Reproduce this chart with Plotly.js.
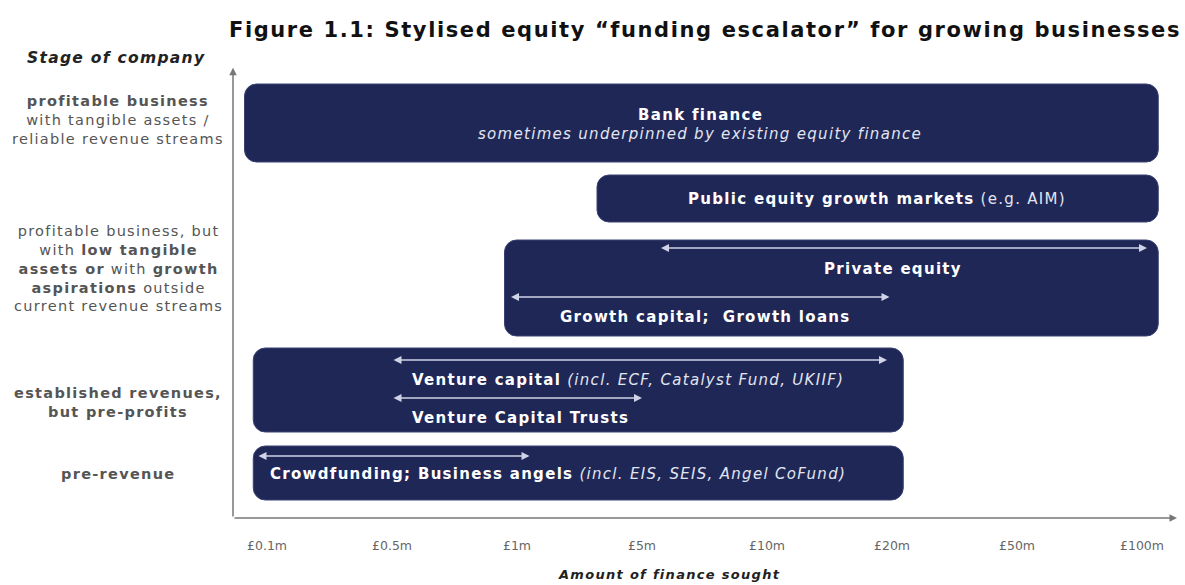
<!DOCTYPE html>
<html><head><meta charset="utf-8">
<script src="https://cdn.plot.ly/plotly-3.0.1.min.js"></script>
<style>
body{margin:0;background:#fff}
text.annotation-text{letter-spacing:1.3px}
text.gtitle{letter-spacing:1.6px}
</style>
</head><body><div id="chart" style="width:1185px;height:585px"></div>
<script>
// ---- data ----
const amountTicks = ['£0.1m','£0.5m','£1m','£5m','£10m','£20m','£50m','£100m'];
const tickIndex = [0,1,2,3,4,5,6,7];
const sources = ['Bank finance','Public equity growth markets','Private equity; Growth capital','Venture capital; VCTs','Crowdfunding; Business angels'];
const rangeStart = [-0.18, 2.64, 1.9, -0.11, -0.11];
const rangeEnd   = [7.13, 7.13, 7.13, 5.09, 5.09];
const arrowNames = ['Private equity','Growth capital','Venture capital','Venture Capital Trusts','Crowdfunding'];
const arrowFrom  = [3.14, 1.94, 1.0, 1.0, -0.08];
const arrowTo    = [7.04, 4.98, 4.96, 3.0, 2.10];
const stageLabels = [
  '<b>profitable business</b><br>with tangible assets /<br>reliable revenue streams',
  'profitable business, but<br>with <b>low tangible</b><br><b>assets or</b> with <b>growth</b><br><b>aspirations</b> outside<br>current revenue streams',
  '<b>established revenues,</b><br><b>but pre-profits</b>',
  '<b>pre-revenue</b>'
];

// ---- layout constants (positions / sizes) ----
const barCenter = [39.5, 31.95, 23.0, 12.8, 4.5];
const barThick  = [7.8, 4.7, 9.6, 8.4, 5.4];
const arrowY    = [27.0, 22.1, 15.8, 12.0, 6.2];
const stageY    = [39.8, 25.0, 11.6, 4.4];
const NAVY = '#1f2757';
const FONT = 'DejaVu Sans, Verdana, sans-serif';

const trace = {
  type: 'bar', orientation: 'h',
  y: barCenter, width: barThick,
  base: rangeStart,
  x: rangeEnd.map((e,i)=>e-rangeStart[i]),
  text: sources, textposition: 'none', hoverinfo: 'text',
  marker: {color: NAVY, cornerradius: 12, line: {color: '#3a4272', width: 1}}
};

const annotations = [];
for (let i=0;i<arrowNames.length;i++){
  annotations.push({x: arrowTo[i], y: arrowY[i], ax: arrowFrom[i], ay: arrowY[i],
    xref:'x', yref:'y', axref:'x', ayref:'y', text:'', showarrow:true,
    arrowhead:2, startarrowhead:2, arrowside:'end+start', arrowsize:1, startarrowsize:1,
    arrowwidth:1.6, arrowcolor:'#d0d4e6'});
}
const W = '#ffffff', WI = '#e2e5f0';
function txt(x,y,t,anchor,size){
  return {x:x,y:y,xref:'x',yref:'y',text:t,showarrow:false,xanchor:anchor||'center',yanchor:'middle',
    font:{family:FONT,size:size||15,color:W}};
}
annotations.push(txt(3.464,40.3,'<b>Bank finance</b>'));
annotations.push(txt(3.464,38.4,'<i><span style="color:'+WI+'">sometimes underpinned by existing equity finance</span></i>'));
annotations.push(txt(4.88,31.9,'<b>Public equity growth markets</b> <span style="color:'+WI+'">(e.g. AIM)</span>'));
annotations.push(txt(5.008,24.9,'<b>Private equity</b>'));
annotations.push(txt(3.504,20.1,'<b>Growth capital;  Growth loans</b>'));
annotations.push(txt(1.144,13.8,'<b>Venture capital</b> <i><span style="color:'+WI+'">(incl. ECF, Catalyst Fund, UKIIF)</span></i>','left'));
annotations.push(txt(1.144,10.0,'<b>Venture Capital Trusts</b>','left'));
annotations.push(txt(0.008,4.4,'<b>Crowdfunding; Business angels</b> <i><span style="color:'+WI+'">(incl. EIS, SEIS, Angel CoFund)</span></i>','left'));

for (let i=0;i<stageLabels.length;i++){
  annotations.push({x:-0.1214, y:stageY[i], xref:'paper', yref:'y', text:stageLabels[i], showarrow:false,
    xanchor:'center', yanchor:'middle', align:'center',
    font:{family:FONT,size:14.5,color:'#555'}});
}
annotations.push({x:-0.1235, y:1.027, xref:'paper', yref:'paper', text:'<b><i>Stage of company</i></b>',
  showarrow:false, xanchor:'center', yanchor:'middle', font:{family:FONT,size:15.5,color:'#222'}});
annotations.push({x:(669-233)/944, y:-0.127, xref:'paper', yref:'paper', text:'<b><i>Amount of finance sought</i></b>',
  showarrow:false, xanchor:'center', yanchor:'middle', font:{family:FONT,size:13,color:'#222'}});
// axis arrows
annotations.push({x:0, y:1.005, ax:0, ay:0, xref:'x domain', yref:'y domain', axref:'x domain', ayref:'y domain',
  text:'', showarrow:true, arrowhead:2, arrowsize:1, arrowwidth:1.5, arrowcolor:'#777'});
annotations.push({x:1, y:0, ax:0, ay:0, xref:'x domain', yref:'y domain', axref:'x domain', ayref:'y domain',
  text:'', showarrow:true, arrowhead:2, arrowsize:1, arrowwidth:1.5, arrowcolor:'#777'});

const layout = {
  width:1185, height:585, paper_bgcolor:'#fff', plot_bgcolor:'#fff',
  margin:{l:233, r:8, t:70, b:67},
  showlegend:false, barmode:'overlay',
  title:{text:'<b>Figure 1.1: Stylised equity \u201cfunding escalator\u201d for growing businesses</b>',
    x:0.5, xref:'paper', xanchor:'center', y:0.949, yref:'container', yanchor:'middle',
    font:{family:FONT,size:21,color:'#111'}},
  xaxis:{range:[-0.272,7.28], tickvals:tickIndex, ticktext:amountTicks, showgrid:false, zeroline:false,
    showline:false, ticks:'outside', ticklen:16, tickcolor:'rgba(0,0,0,0)',
    tickfont:{family:FONT,size:12.5,color:'#666'}},
  yaxis:{range:[0,44.8], showgrid:false, zeroline:false, showticklabels:false, showline:false},
  annotations: annotations
};
Plotly.newPlot('chart',[trace],layout,{displayModeBar:false, staticPlot:true});
</script></body></html>
